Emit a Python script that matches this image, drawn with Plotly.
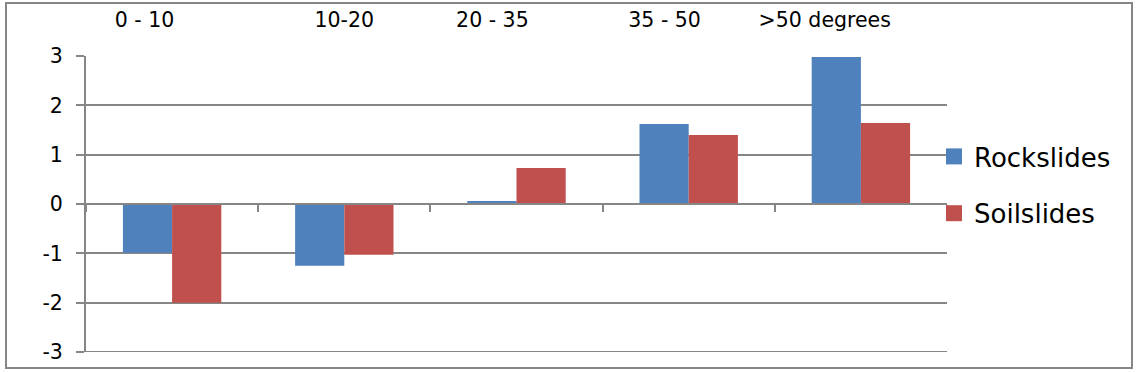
import plotly.graph_objects as go

# ---- data ----
categories = ["0 - 10", "10-20", "20 - 35", "35 - 50", ">50 degrees"]
rockslides = [-0.99, -1.25, 0.06, 1.62, 2.98]
soilslides = [-2.00, -1.03, 0.73, 1.40, 1.64]
y_ticks = [-3, -2, -1, 0, 1, 2, 3]
y_tick_text = ["-3", "-2", "-1", "0", "1", "2", "3"]

# ---- style / layout constants ----
BLUE = "#4F81BD"
RED = "#C0504D"
GRID = "#868686"
LW = 2
FONT = "DejaVu Sans"
# horizontal nudge of top category labels (in category units), as in the original
LABEL_SHIFT = [-0.16, 0.0, -0.14, -0.14, -0.21]

W, H = 1137, 372
ML, MR, MT, MB = 86, 190, 56, 20
PW, PH = W - ML - MR, H - MT - MB

fig = go.Figure()
fig.add_trace(go.Bar(x=categories, y=rockslides, name="Rockslides",
                     marker=dict(color=BLUE, line=dict(width=0)), showlegend=False))
fig.add_trace(go.Bar(x=categories, y=soilslides, name="Soilslides",
                     marker=dict(color=RED, line=dict(width=0)), showlegend=False))

# legend entries with larger square markers
fig.add_trace(go.Scatter(x=[None], y=[None], mode="markers", name="Rockslides",
                         marker=dict(symbol="square", size=16, color=BLUE),
                         legendgroup="a"))
fig.add_trace(go.Scatter(x=[None], y=[None], mode="markers", name="Soilslides",
                         marker=dict(symbol="square", size=16, color=RED),
                         legendgroup="b"))

# invisible trace on overlay axis to carry top labels
label_pos = [i + s for i, s in enumerate(LABEL_SHIFT)]
fig.add_trace(go.Scatter(x=label_pos, y=[None] * len(label_pos), xaxis="x2",
                         mode="markers", showlegend=False, hoverinfo="skip",
                         marker=dict(opacity=0)))

fig.update_layout(
    width=W, height=H,
    margin=dict(l=ML, r=MR, t=MT, b=MB, autoexpand=False),
    paper_bgcolor="white", plot_bgcolor="white",
    font=dict(family=FONT, size=20, color="black"),
    barmode="group", bargap=1.5 / 3.5, bargroupgap=0,
    xaxis=dict(
        type="category", anchor="free", position=0.5, automargin=False,
        showline=True, linecolor=GRID, linewidth=LW,
        ticks="outside", ticklen=7, tickcolor=GRID, tickwidth=LW,
        tickson="boundaries", showgrid=False, showticklabels=False,
        zeroline=False, range=[-0.5, 4.5],
    ),
    xaxis2=dict(
        overlaying="x", side="top", anchor="y", range=[-0.5, 4.5], automargin=False,
        tickmode="array", tickvals=label_pos, ticktext=categories,
        ticks="outside", ticklen=20, tickcolor="rgba(0,0,0,0)",
        showgrid=False, showline=False, zeroline=False,
        tickfont=dict(family=FONT, size=20.5, color="black"),
    ),
    yaxis=dict(
        range=[-3, 3], tickmode="array", tickvals=y_ticks, ticktext=y_tick_text,
        automargin=False,
        showgrid=True, gridcolor=GRID, gridwidth=LW,
        showline=True, linecolor=GRID, linewidth=LW,
        ticks="outside", ticklen=8, tickcolor=GRID, tickwidth=LW,
        ticklabelstandoff=9,
        zeroline=False, tickfont=dict(family=FONT, size=20.5, color="black"),
    ),
    legend=dict(
        x=(934 - ML) / PW, xanchor="left", y=(H - MB - 185) / PH, yanchor="middle",
        font=dict(family=FONT, size=26, color="black"),
        bgcolor="rgba(0,0,0,0)", tracegroupgap=20, itemwidth=30,
    ),
    shapes=[
        dict(type="rect", xref="paper", yref="paper",
             x0=(6 - ML) / PW, x1=(1132 - ML) / PW,
             y0=(H - MB - 368) / PH, y1=(H - MB - 3) / PH,
             line=dict(color=GRID, width=LW), fillcolor="rgba(0,0,0,0)", layer="below"),
        # bottom gridline (-3), which plotly omits at the range edge
        dict(type="line", xref="x domain", yref="y", x0=0, x1=1,
             y0=y_ticks[0], y1=y_ticks[0], line=dict(color=GRID, width=LW), layer="below"),
    ],
)

fig.write_html("out.html",
               config={"displayModeBar": False},
               post_script="document.body.style.margin='0';document.body.style.overflow='hidden';")
